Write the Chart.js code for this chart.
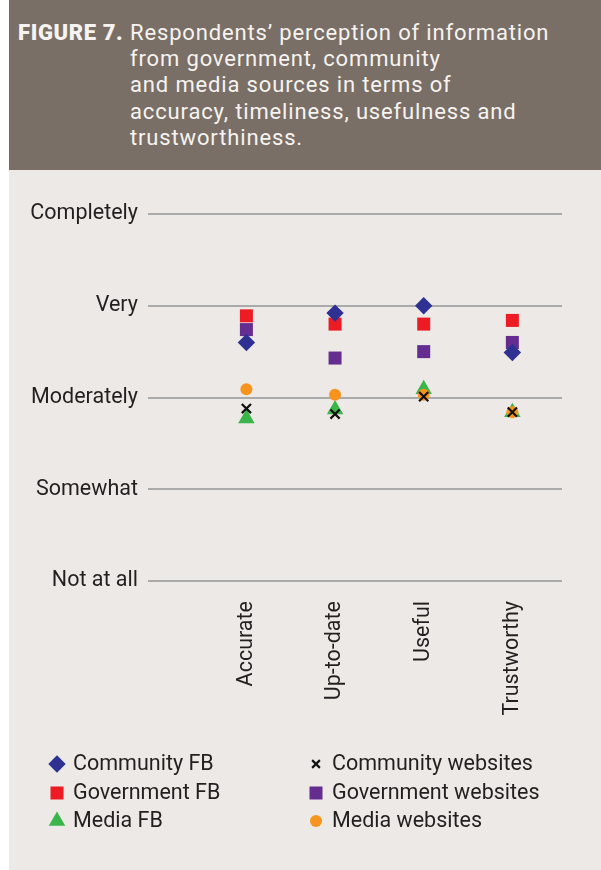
<!DOCTYPE html>
<html>
<head>
<meta charset="utf-8">
<script src="https://cdn.jsdelivr.net/npm/chart.js"></script>
<style>
  html, body { margin: 0; padding: 0; background: #fff; }
  #box { position: absolute; left: 9px; top: 0; width: 592px; height: 870px; }
  #head {
    height: 170px; background: #7a6f66; color: #f6f3f0;
    font-family: Roboto, sans-serif; font-size: 22px; line-height: 26.2px;
    letter-spacing: 0.85px;
    box-sizing: border-box; padding: 20px 0 0 9px; display: flex;
  }
  #head b { font-weight: 900; width: 112px; flex: none; letter-spacing: 0.6px; }
  #body { height: 700px; background: #ece9e6; position: relative; }
</style>
</head>
<body>
<div id="box">
  <div id="head">
    <b>FIGURE 7.</b>
    <div>Respondents’ perception of information<br>from government, community<br>and media sources in terms of<br>accuracy, timeliness, usefulness and<br>trustworthiness.</div>
  </div>
  <div id="body"><canvas id="chart" width="592" height="700"></canvas></div>
</div>
<script>
// data
const categories = ['Accurate', 'Up-to-date', 'Useful', 'Trustworthy'];
const levels = ['Not at all', 'Somewhat', 'Moderately', 'Very', 'Completely'];

const communityFB = [3.60, 3.92, 4.00, 3.49];
const governmentFB = [3.89, 3.80, 3.80, 3.84];
const mediaFB = [2.77, 2.87, 3.09, 2.84];
const communityWeb = [2.88, 2.82, 3.01, 2.84];
const governmentWeb = [3.74, 3.43, 3.50, 3.60];
const mediaWeb = [3.09, 3.03, 3.03, 2.84];

const toPoints = vals => vals.map((v, i) => ({ x: i + 1, y: v }));

// legend: two columns, drawn with chart.js point helper
const legendRows = [
  ['Community FB', 'Community websites'],
  ['Government FB', 'Government websites'],
  ['Media FB', 'Media websites']
];

const twoColLegend = {
  id: 'twoColLegend',
  afterDraw(chart) {
    const ctx = chart.ctx;
    const byLabel = {};
    chart.data.datasets.forEach(d => { byLabel[d.label] = d; });
    const colX = [48, 307];
    const rowY = [594, 623, 651];
    ctx.save();
    legendRows.forEach((row, r) => {
      row.forEach((label, c) => {
        const d = byLabel[label];
        const x = colX[c], y = rowY[r];
        ctx.fillStyle = d.backgroundColor;
        ctx.strokeStyle = d.borderColor;
        ctx.lineWidth = d.pointBorderWidth;
        Chart.helpers.drawPoint(ctx, {
          pointStyle: d.pointStyle,
          radius: d.legendRadius || d.pointRadius,
          rotation: 0,
          borderWidth: d.pointBorderWidth
        }, x, y);
        ctx.fillStyle = '#231f20';
        ctx.font = '21.5px Roboto, sans-serif';
        ctx.textBaseline = 'middle';
        ctx.textAlign = 'left';
        ctx.fillText(label, x + 16, y + 1);
      });
    });
    ctx.restore();
  }
};

new Chart(document.getElementById('chart'), {
  type: 'scatter',
  data: {
    datasets: [
      { label: 'Community websites', data: toPoints(communityWeb), pointStyle: 'crossRot',
        pointRadius: 6.5, legendRadius: 5.5, backgroundColor: '#111', borderColor: '#111', pointBorderWidth: 2.2, order: 0 },
      { label: 'Media websites', data: toPoints(mediaWeb), pointStyle: 'circle',
        pointRadius: 6, backgroundColor: '#f7941d', borderColor: '#f7941d', pointBorderWidth: 0, order: 1 },
      { label: 'Media FB', data: toPoints(mediaFB), pointStyle: 'triangle',
        pointRadius: 9.5, backgroundColor: '#39b54a', borderColor: '#39b54a', pointBorderWidth: 0, order: 2 },
      { label: 'Community FB', data: toPoints(communityFB), pointStyle: 'rectRot',
        pointRadius: 8.7, backgroundColor: '#2e3192', borderColor: '#2e3192', pointBorderWidth: 0, order: 3 },
      { label: 'Government websites', data: toPoints(governmentWeb), pointStyle: 'rect',
        pointRadius: 9.2, backgroundColor: '#662d91', borderColor: '#662d91', pointBorderWidth: 0, order: 4 },
      { label: 'Government FB', data: toPoints(governmentFB), pointStyle: 'rect',
        pointRadius: 9.2, backgroundColor: '#ed1c24', borderColor: '#ed1c24', pointBorderWidth: 0, order: 5 }
    ]
  },
  options: {
    responsive: false,
    animation: false,
    layout: { padding: { top: 44, right: 39, bottom: 150, left: 0 } },
    plugins: { legend: { display: false }, tooltip: { enabled: false } },
    elements: { point: { hoverRadius: 0 } },
    scales: {
      x: {
        type: 'linear',
        min: -0.11,
        max: 4.56,
        grid: { display: false },
        border: { display: false },
        afterBuildTicks: axis => { axis.ticks = categories.map((c, i) => ({ value: i + 1 })); },
        afterFit: axis => { axis.height = 139; },
        ticks: {
          minRotation: 90,
          maxRotation: 90,
          autoSkip: false,
          padding: 12,
          color: '#231f20',
          font: { family: 'Roboto, sans-serif', size: 21.5 },
          callback: v => categories[v - 1]
        }
      },
      y: {
        min: 1,
        max: 5,
        grid: { color: '#aaaaaa', lineWidth: 2, drawTicks: false },
        border: { display: false },
        afterFit: axis => { axis.width = 139; },
        ticks: {
          stepSize: 1,
          padding: 10,
          color: '#231f20',
          font: { family: 'Roboto, sans-serif', size: 21.5 },
          callback: v => levels[v - 1]
        }
      }
    }
  },
  plugins: [twoColLegend]
});
</script>
</body>
</html>
